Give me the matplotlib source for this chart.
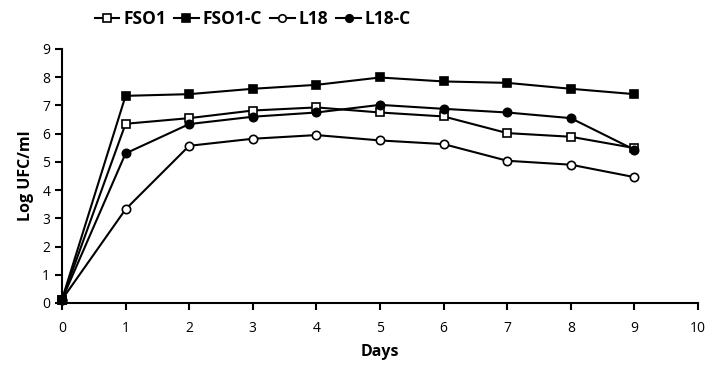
import matplotlib
matplotlib.use("Agg")
import matplotlib.pyplot as plt

days = [0, 1, 2, 3, 4, 5, 6, 7, 8, 9]
fso1 = [0.12, 6.35, 6.55, 6.82, 6.93, 6.75, 6.61, 6.02, 5.89, 5.49]
fso1_c = [0.12, 7.34, 7.40, 7.59, 7.73, 7.99, 7.85, 7.80, 7.59, 7.40]
l18 = [0.12, 3.32, 5.57, 5.82, 5.95, 5.76, 5.63, 5.04, 4.90, 4.46]
l18_c = [0.12, 5.30, 6.34, 6.60, 6.75, 7.02, 6.88, 6.75, 6.55, 5.43]
x_ticks = list(range(0, 11))
y_ticks = list(range(0, 10))

plt.rcParams['font.family'] = ['Open Sans', 'DejaVu Sans']

fig = plt.figure(figsize=(7.09, 3.67), dpi=100)
ax = fig.add_axes([0.0874, 0.1744, 0.8971, 0.6921])

kw = dict(color='black', linewidth=1.5, markersize=6, markeredgewidth=1.2, clip_on=False)
ax.plot(days, fso1, marker='s', markerfacecolor='white', markeredgecolor='black', label='FSO1', **kw)
ax.plot(days, fso1_c, marker='s', markerfacecolor='black', markeredgecolor='black', label='FSO1-C', **kw)
ax.plot(days, l18, marker='o', markerfacecolor='white', markeredgecolor='black', label='L18', **kw)
ax.plot(days, l18_c, marker='o', markerfacecolor='black', markeredgecolor='black', label='L18-C', **kw)

ax.set_xlim(0, 10)
ax.set_ylim(0, 9)
ax.set_xticks(x_ticks)
ax.set_yticks(y_ticks)
ax.spines['top'].set_visible(False)
ax.spines['right'].set_visible(False)
ax.spines['left'].set_linewidth(1.5)
ax.spines['bottom'].set_linewidth(1.5)
ax.tick_params(axis='both', direction='out', width=1.5, length=5, labelsize=10)
ax.tick_params(axis='x', pad=8)

ax.set_xlabel('Days', fontsize=11.5, fontweight='bold', labelpad=6)
ax.set_ylabel('Log UFC/ml', fontsize=11.5, fontweight='bold', labelpad=6)

leg = fig.legend(loc='upper center', bbox_to_anchor=(0.357, 1.015), ncol=4, frameon=False,
                 prop={'family': ['Liberation Sans Narrow', 'Open Sans'], 'weight': 'bold', 'size': 12.5},
                 handlelength=1.4, handletextpad=0.25, columnspacing=0.45, markerscale=0.9)

fig.savefig('out.png', dpi=100)
